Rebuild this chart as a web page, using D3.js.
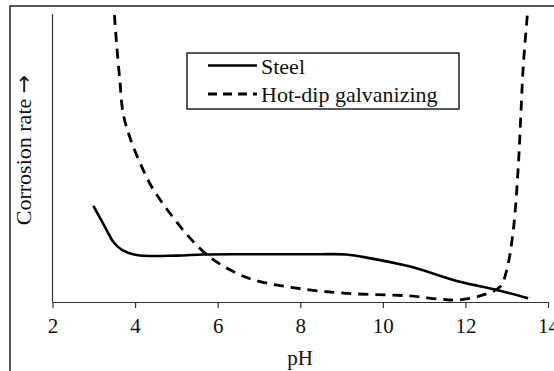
<!DOCTYPE html>
<html><head><meta charset="utf-8">
<script src="https://cdn.jsdelivr.net/npm/d3@7"></script>
<style>body{margin:0;background:#fff}svg{display:block}
svg text{font-family:"Liberation Serif","Times New Roman",Times,serif;}
svg tspan.arrow{font-family:"DejaVu Sans",sans-serif;}</style>
</head><body>
<svg id="c" width="554" height="371"></svg>
<script>
const xTicks = [2, 4, 6, 8, 10, 12, 14];
const steelPH =   [2.99, 3.31, 3.47, 3.68, 4.04, 5.01, 5.64, 6.54, 7.5, 8.5, 9.12, 9.69, 10.66, 11.87, 12.76, 13.52];
const steelRate = [33.4, 25.0, 20.9, 18.1, 16.3, 16.1, 16.5, 16.6, 16.6, 16.6, 16.5, 15.2, 12.3, 7.0, 4.2, 1.3];
const galvPH =   [3.50, 3.55, 3.63, 3.71, 3.87, 4.12, 4.48, 5.65, 6.46, 6.94, 7.91, 9.12, 10.66, 11.38, 11.83, 12.35, 12.84, 13.00, 13.16, 13.28, 13.34, 13.40, 13.50];
const galvRate = [99.7, 89.9, 77.1, 65.5, 57.3, 48.3, 38.2, 17.5, 10.0, 7.4, 4.8, 3.0, 2.1, 1.0, 0.7, 2.1, 5.3, 11.1, 25.0, 47.0, 64.3, 81.7, 99.7];
const seriesNames = ["Steel", "Hot-dip galvanizing"];

const svg = d3.select("#c");
// outer frame
svg.append("rect").attr("x", 10).attr("y", 6).attr("width", 600).attr("height", 400)
  .attr("fill", "none").attr("stroke", "#222").attr("stroke-width", 1.5);

const x = d3.scaleLinear().domain([2, 14]).range([52.5, 548]);
const y = d3.scaleLinear().domain([0, 100]).range([302, 14]);

// y axis line
svg.append("line").attr("x1", 52.5).attr("x2", 52.5).attr("y1", 14).attr("y2", 302)
  .attr("stroke", "#333").attr("stroke-width", 1.2);

const xa = svg.append("g").attr("transform", "translate(0,302)")
  .call(d3.axisBottom(x).tickValues(xTicks).tickSize(6).tickPadding(10).tickSizeOuter(0));
xa.attr("font-family", null).attr("font-size", null);
xa.select(".domain").attr("stroke", "#333").attr("stroke-width", 1.2);
xa.selectAll(".tick line").attr("stroke", "#333").attr("stroke-width", 1.2);
xa.selectAll(".tick text").style("font-size", "21px").attr("fill", "#111");

svg.append("text").attr("x", 300).attr("y", 365).attr("text-anchor", "middle")
  .style("font-size", "21px").attr("fill", "#111").text("pH");
const yl = svg.append("text").attr("transform", "translate(31,150) rotate(-90)").attr("text-anchor", "middle")
  .style("font-size", "22px").attr("fill", "#111");
yl.append("tspan").text("Corrosion rate ");
yl.append("tspan").attr("class", "arrow").text("\u2192");

const line = d3.line().x(d => x(d[0])).y(d => y(d[1])).curve(d3.curveCatmullRom.alpha(0.5));
svg.append("path").attr("d", line(steelPH.map((p, i) => [p, steelRate[i]])))
  .attr("fill", "none").attr("stroke", "#000").attr("stroke-width", 2.6);
svg.append("path").attr("d", line(galvPH.map((p, i) => [p, galvRate[i]])))
  .attr("fill", "none").attr("stroke", "#000").attr("stroke-width", 2.8).attr("stroke-dasharray", "10,7");

// legend
const lg = svg.append("g");
lg.append("rect").attr("x", 187).attr("y", 53).attr("width", 272).attr("height", 56)
  .attr("fill", "#fff").attr("stroke", "#222").attr("stroke-width", 1.5);
const rows = [{y: 65.5, dash: null}, {y: 94, dash: "9,6"}];
rows.forEach((r, i) => {
  const l = lg.append("line").attr("x1", 208).attr("x2", 257).attr("y1", r.y).attr("y2", r.y)
    .attr("stroke", "#000").attr("stroke-width", i ? 2.8 : 2.6);
  if (r.dash) l.attr("stroke-dasharray", r.dash);
  lg.append("text").attr("x", 261).attr("y", r.y + 8)
    .style("font-size", "22px").attr("fill", "#111").text(seriesNames[i]);
});
</script>
</body></html>
